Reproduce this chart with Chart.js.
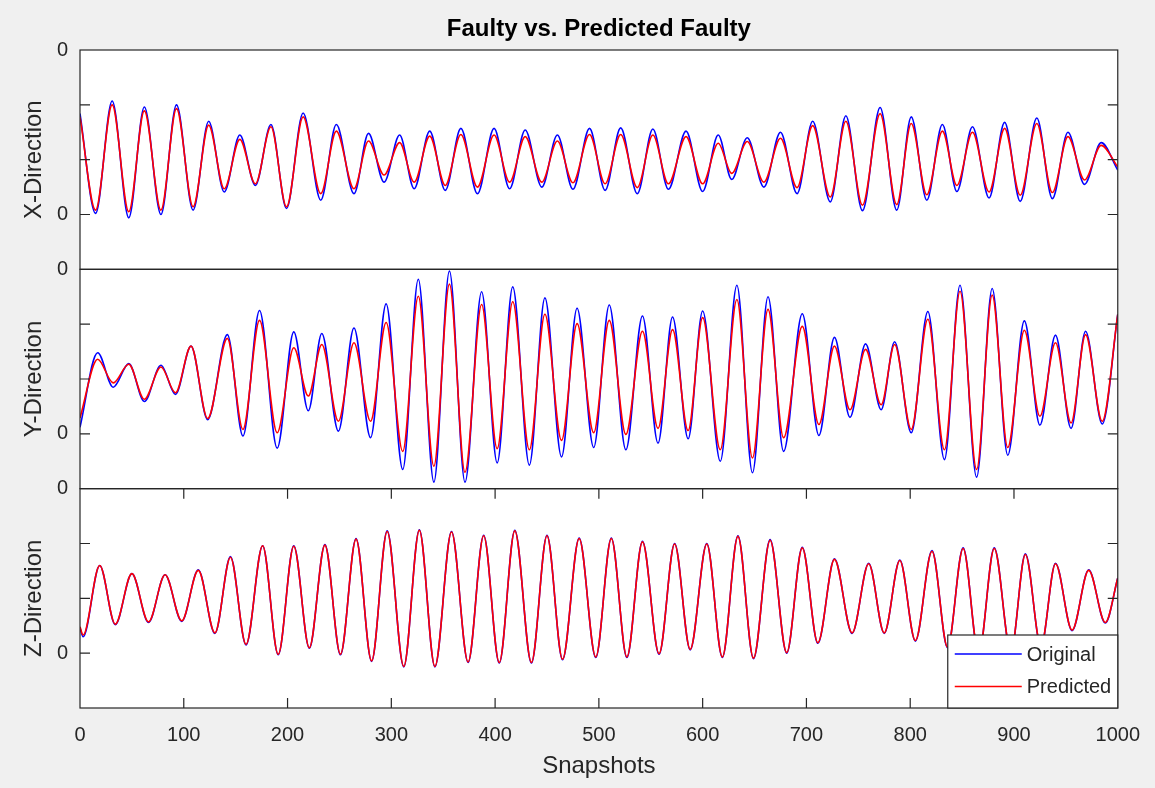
<!DOCTYPE html>
<html>
<head>
<meta charset="utf-8">
<title>Faulty vs. Predicted Faulty</title>
<script src="https://cdn.jsdelivr.net/npm/chart.js@4/dist/chart.umd.min.js"></script>
<style>
  html, body { margin: 0; padding: 0; background: #f0f0f0; }
  #wrap { position: relative; width: 1155px; height: 788px; }
</style>
</head>
<body>
<div id="wrap"><canvas id="faulty-chart" width="1155" height="788"></canvas></div>
<script>
'use strict';
// Peaks and troughs (snapshot index, value on a 0..4 panel scale)
const xDirSnap = [0, 15, 31, 47, 62, 78, 93, 109, 124, 139, 154, 169, 184, 199, 215, 232, 247, 264, 278, 293,
  308, 322, 337, 352, 367, 383, 399, 414, 429, 445, 460, 475, 491, 506, 521, 537, 552, 567, 584, 600,
  615, 628, 643, 659, 675, 691, 706, 723, 738, 754, 771, 787, 801, 816, 831, 845, 860, 876, 891, 906,
  922, 937, 952, 968, 984, 1000];
const xDirOrig = [2.84, 1.02, 3.07, 0.94, 2.96, 1.00, 3.00, 1.08, 2.70, 1.41, 2.45, 1.53, 2.64, 1.11, 2.85, 1.26, 2.64, 1.38, 2.48, 1.59,
  2.45, 1.47, 2.52, 1.44, 2.57, 1.38, 2.57, 1.47, 2.54, 1.50, 2.45, 1.46, 2.57, 1.44, 2.58, 1.38, 2.56, 1.46, 2.52, 1.42,
  2.45, 1.64, 2.40, 1.50, 2.50, 1.38, 2.70, 1.23, 2.80, 1.07, 2.95, 1.08, 2.78, 1.26, 2.64, 1.42, 2.60, 1.30, 2.68, 1.24,
  2.76, 1.29, 2.50, 1.55, 2.31, 1.81];
const xDirPred = [2.78, 1.08, 3.00, 1.05, 2.89, 1.08, 2.93, 1.14, 2.63, 1.47, 2.37, 1.56, 2.60, 1.14, 2.78, 1.38, 2.52, 1.47, 2.34, 1.72,
  2.31, 1.59, 2.43, 1.53, 2.46, 1.50, 2.45, 1.59, 2.42, 1.59, 2.34, 1.58, 2.46, 1.56, 2.46, 1.49, 2.45, 1.56, 2.42, 1.56,
  2.30, 1.75, 2.33, 1.59, 2.39, 1.49, 2.62, 1.32, 2.70, 1.17, 2.84, 1.18, 2.66, 1.36, 2.52, 1.53, 2.50, 1.41, 2.57, 1.35,
  2.66, 1.40, 2.42, 1.63, 2.26, 1.87];

const yDirSnap = [0, 17, 32, 47, 62, 78, 92, 107, 123, 142, 157, 173, 190, 206, 220, 233, 249, 264, 280, 295,
  311, 326, 341, 356, 371, 387, 402, 417, 433, 448, 464, 479, 495, 510, 526, 542, 557, 571, 586, 600,
  617, 633, 648, 663, 678, 696, 712, 727, 742, 757, 772, 785, 801, 817, 833, 848, 864, 879, 894, 910,
  925, 940, 955, 969, 985, 1000];
const yDirOrig = [1.12, 2.48, 1.85, 2.28, 1.59, 2.25, 1.72, 2.60, 1.26, 2.81, 0.96, 3.25, 0.74, 2.86, 1.42, 2.83, 1.05, 2.93, 0.93, 3.37,
  0.35, 3.82, 0.12, 3.97, 0.12, 3.59, 0.47, 3.68, 0.43, 3.48, 0.58, 3.29, 0.75, 3.35, 0.71, 3.15, 0.83, 3.13, 0.91, 3.24,
  0.50, 3.71, 0.29, 3.50, 0.68, 3.19, 0.97, 2.76, 1.30, 2.64, 1.44, 2.68, 1.02, 3.23, 0.53, 3.71, 0.21, 3.65, 0.61, 3.06,
  1.16, 2.80, 1.10, 2.87, 1.18, 3.18];
const yDirPred = [1.29, 2.36, 1.93, 2.27, 1.63, 2.22, 1.75, 2.60, 1.28, 2.74, 1.08, 3.07, 1.02, 2.57, 1.69, 2.63, 1.23, 2.66, 1.23, 3.03,
  0.68, 3.51, 0.41, 3.73, 0.30, 3.36, 0.73, 3.41, 0.71, 3.18, 0.88, 3.01, 1.02, 3.07, 0.99, 2.87, 1.10, 2.90, 1.06, 3.12,
  0.71, 3.45, 0.56, 3.27, 0.93, 2.96, 1.17, 2.60, 1.44, 2.54, 1.53, 2.63, 1.08, 3.09, 0.71, 3.60, 0.35, 3.53, 0.75, 2.89,
  1.32, 2.66, 1.20, 2.81, 1.23, 3.18];

const zDirSnap = [0, 3, 19, 34, 50, 66, 82, 98, 114, 130, 145, 160, 176, 191, 206, 221, 236, 251, 266, 281,
  296, 312, 327, 342, 358, 374, 389, 404, 419, 435, 450, 465, 481, 497, 512, 527, 542, 558, 573, 588,
  604, 619, 634, 649, 665, 681, 696, 711, 727, 744, 760, 775, 790, 805, 821, 836, 851, 866, 881, 897,
  911, 926, 940, 956, 972, 988, 1000];
const zDirOrig = [1.46, 1.30, 2.60, 1.52, 2.45, 1.56, 2.43, 1.58, 2.52, 1.36, 2.76, 1.15, 2.96, 0.97, 2.96, 1.09, 2.98, 0.97, 3.09, 0.85,
  3.23, 0.75, 3.25, 0.75, 3.22, 0.83, 3.15, 0.82, 3.24, 0.82, 3.15, 0.88, 3.10, 0.92, 3.10, 0.92, 3.04, 0.98, 3.00, 1.06,
  3.00, 0.92, 3.14, 0.90, 3.07, 1.00, 2.93, 1.18, 2.72, 1.36, 2.64, 1.36, 2.70, 1.22, 2.87, 1.10, 2.92, 0.98, 2.92, 1.02,
  2.81, 1.12, 2.64, 1.41, 2.52, 1.55, 2.37];
const zDirPred = [1.48, 1.33, 2.60, 1.53, 2.45, 1.57, 2.43, 1.59, 2.51, 1.37, 2.75, 1.16, 2.96, 0.98, 2.95, 1.10, 2.97, 0.98, 3.08, 0.86,
  3.22, 0.76, 3.24, 0.76, 3.21, 0.84, 3.14, 0.83, 3.23, 0.83, 3.14, 0.89, 3.09, 0.93, 3.09, 0.93, 3.03, 0.99, 2.99, 1.07,
  2.99, 0.93, 3.13, 0.91, 3.06, 1.01, 2.92, 1.19, 2.71, 1.37, 2.63, 1.37, 2.69, 1.23, 2.86, 1.11, 2.91, 0.99, 2.91, 1.03,
  2.80, 1.13, 2.63, 1.42, 2.51, 1.56, 2.37];

const snapTicks = [0, 1000, 100];          // min, max, step
const panelRange = [0, 4];                // every panel shares the same value range
const labelledTicks = [4, 1];             // ticks that carry a label in the original
const seriesNames = ['Original', 'Predicted'];
const seriesColors = ['#0000ff', '#ff0000'];

const FONT = '"Liberation Sans", Arial, Helvetica, sans-serif';
const INK = '#262626';

const pts = (xs, ys) => xs.map((x, i) => ({ x: x, y: ys[i] }));

// order: predicted (red) is painted over original (blue)
function series(idx, xs, ys, axis) {
  return {
    label: seriesNames[idx],
    data: pts(xs, ys),
    yAxisID: axis,
    order: idx === 0 ? 2 : 1,
    borderColor: seriesColors[idx],
    borderWidth: 1.6,
    pointRadius: 0,
    fill: false,
    cubicInterpolationMode: 'monotone'
  };
}

function panelAxis(label) {
  return {
    type: 'linear',
    position: 'left',
    stack: 'panels',
    stackWeight: 1,
    min: panelRange[0],
    max: panelRange[1],
    afterFit: s => { s.width = 80; },
    grid: { display: false, drawTicks: false },
    border: { display: false },
    ticks: {
      stepSize: 1,
      autoSkip: false,
      padding: 12,
      color: INK,
      font: { family: FONT, size: 20 },
      callback: v => labelledTicks.includes(v) ? '0' : ''
    },
    title: { display: true, text: label, color: INK, font: { family: FONT, size: 24 }, padding: { top: 20, bottom: 0 } }
  };
}

// white axes boxes, inward ticks, and the MATLAB-style legend
const framePlugin = {
  id: 'frames',
  beforeDraw(chart) {
    const { ctx, chartArea } = chart;
    ctx.save();
    ctx.fillStyle = '#ffffff';
    ctx.fillRect(chartArea.left, chartArea.top, chartArea.width, chartArea.height);
    ctx.restore();
  },
  afterDatasetsDraw(chart) {
    const { ctx, chartArea, scales } = chart;
    const l = chartArea.left, r = chartArea.right;
    ctx.save();
    ctx.strokeStyle = INK;
    ctx.lineWidth = 1.2;
    ['yX', 'yY', 'yZ'].forEach(id => {
      const s = scales[id];
      ctx.strokeRect(l, s.top, r - l, s.bottom - s.top);
      ctx.beginPath();
      s.ticks.forEach(t => {
        if (t.value <= s.min || t.value >= s.max) return;
        const py = s.getPixelForValue(t.value);
        ctx.moveTo(l, py); ctx.lineTo(l + 10, py);
        ctx.moveTo(r, py); ctx.lineTo(r - 10, py);
      });
      ctx.stroke();
    });
    const z = scales.yZ, xs = scales.x;
    ctx.beginPath();
    xs.ticks.forEach(t => {
      if (t.value <= xs.min || t.value >= xs.max) return;
      const px = xs.getPixelForValue(t.value);
      ctx.moveTo(px, z.top); ctx.lineTo(px, z.top + 10);
      ctx.moveTo(px, z.bottom); ctx.lineTo(px, z.bottom - 10);
    });
    ctx.stroke();
    ctx.restore();
  },
  afterDraw(chart) {
    const { ctx, chartArea, scales } = chart;
    const w = 170, h = 73;
    const x0 = chartArea.right - w, y0 = scales.yZ.bottom - h;
    ctx.save();
    ctx.fillStyle = '#ffffff';
    ctx.fillRect(x0, y0, w, h);
    ctx.strokeStyle = INK;
    ctx.lineWidth = 1.2;
    ctx.strokeRect(x0, y0, w, h);
    ctx.font = '20px ' + FONT;
    ctx.textBaseline = 'middle';
    seriesNames.forEach((name, i) => {
      const yy = y0 + 19 + i * 32.5;
      ctx.strokeStyle = seriesColors[i];
      ctx.lineWidth = 1.6;
      ctx.beginPath();
      ctx.moveTo(x0 + 7, yy); ctx.lineTo(x0 + 74, yy);
      ctx.stroke();
      ctx.fillStyle = INK;
      ctx.fillText(name, x0 + 79, yy + 1);
    });
    ctx.restore();
  }
};

new Chart(document.getElementById('faulty-chart'), {
  type: 'line',
  data: {
    datasets: [
      series(0, xDirSnap, xDirOrig, 'yX'),
      series(1, xDirSnap, xDirPred, 'yX'),
      series(0, yDirSnap, yDirOrig, 'yY'),
      series(1, yDirSnap, yDirPred, 'yY'),
      series(0, zDirSnap, zDirOrig, 'yZ'),
      series(1, zDirSnap, zDirPred, 'yZ')
    ]
  },
  options: {
    responsive: false,
    animation: false,
    layout: { padding: { left: 0, right: 37, top: 0, bottom: 0 } },
    plugins: {
      legend: { display: false },
      tooltip: { enabled: false },
      title: {
        display: true,
        text: 'Faulty vs. Predicted Faulty',
        color: '#000000',
        fullSize: false,
        font: { family: FONT, size: 24, weight: 'bold' },
        padding: { top: 15, bottom: 6.2 }
      }
    },
    scales: {
      x: {
        type: 'linear',
        min: snapTicks[0],
        max: snapTicks[1],
        afterFit: s => { s.height = 80; },
        grid: { display: false, drawTicks: false },
        border: { display: false },
        ticks: {
          stepSize: snapTicks[2], autoSkip: false, maxRotation: 0, padding: 15, color: INK,
          font: { family: FONT, size: 20 },
          callback: v => String(v)
        },
        title: { display: true, text: 'Snapshots', color: INK, font: { family: FONT, size: 24 }, padding: { top: 0, bottom: 7 } }
      },
      yZ: panelAxis('Z-Direction'),
      yY: panelAxis('Y-Direction'),
      yX: panelAxis('X-Direction')
    }
  },
  plugins: [framePlugin]
});
</script>
</body>
</html>
